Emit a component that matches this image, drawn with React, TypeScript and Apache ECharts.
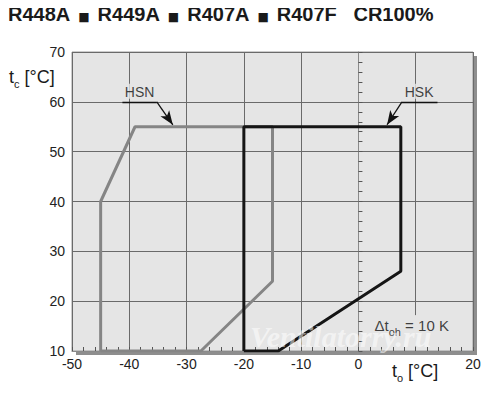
import React, { useEffect, useRef } from "react";
import * as echarts from "echarts";

const titleParts = ["R448A", "R449A", "R407A", "R407F"];
const titleSuffix = "CR100%";
const xTicks = [-50, 20, 10];
const yTicks = [10, 70, 10];
const hiddenXLabels = [10];

const hsnLabel = "HSN";
const hsnPoints = [
  [-45, 10],
  [-45, 40],
  [-39, 55],
  [-15, 55],
  [-15, 24],
  [-27.5, 10],
  [-45, 10],
];
const hsnLabelPos = [-38.2, 60];
const hsnLeader = [
  [-41.2, 60],
  [-35.2, 60],
  [-32.4, 55.4],
];

const hskLabel = "HSK";
const hskPoints = [
  [-20, 10],
  [-20, 55],
  [7.4, 55],
  [7.4, 26],
  [-14, 10],
  [-20, 10],
];
const hskLabelPos = [10.6, 60];
const hskLeader = [
  [13.8, 60],
  [7.6, 60],
  [5.0, 55.4],
];

const superheatPos = [9.3, 15];
const gridGapX = [9.7, 10.3];
const gridGapY = [10.9, 17.2];

const FONT = "'Liberation Sans', Arial, Helvetica, sans-serif";
const BG = "#e5e5e5";

export default function App() {
  const ref = useRef<HTMLDivElement>(null);
  useEffect(() => {
    if (!ref.current) return;
    const chart = echarts.init(ref.current, undefined, { renderer: "svg" });
    const leaderMark = (pts: number[][]) => ({
      silent: true,
      symbol: ["none", "none"],
      label: { show: false },
      lineStyle: { color: "#111", width: 1.3, type: "solid" },
      emphasis: { disabled: true },
      data: [
        [{ coord: pts[0] }, { coord: pts[1] }],
        [
          { coord: pts[1], symbol: "none" },
          { coord: pts[2], symbol: "arrow", symbolSize: [8, 14] },
        ],
      ],
    });
    const option: any = {
      animation: false,
      grid: {
        left: 72,
        top: 52,
        width: 401,
        height: 299,
        show: true,
        backgroundColor: BG,
        borderColor: "#9a9a9a",
        borderWidth: 1,
      },
      xAxis: {
        type: "value",
        min: xTicks[0],
        max: xTicks[1],
        interval: xTicks[2],
        axisLine: { show: true, lineStyle: { color: "#8a8a8a", width: 1 } },
        axisTick: { show: true, inside: true, length: 4, lineStyle: { color: "#555" } },
        minorTick: { show: true, splitNumber: 5, length: 4, lineStyle: { color: "#555" } },
        splitLine: { show: true, lineStyle: { color: "#6a6a6a", width: 1 } },
        axisLabel: {
          color: "#222",
          fontSize: 14,
          fontFamily: FONT,
          margin: 6,
          formatter: (v: number) => (hiddenXLabels.includes(v) ? "" : String(v)),
        },
      },
      yAxis: {
        type: "value",
        min: yTicks[0],
        max: yTicks[1],
        interval: yTicks[2],
        axisLine: { show: true, lineStyle: { color: "#8a8a8a", width: 1 } },
        axisTick: { show: true, inside: true, length: 4, lineStyle: { color: "#555" } },
        minorTick: { show: true, splitNumber: 5, length: 4, lineStyle: { color: "#555" } },
        splitLine: { show: true, lineStyle: { color: "#6a6a6a", width: 1 } },
        axisLabel: { color: "#222", fontSize: 14, fontFamily: FONT, margin: 7 },
      },
      series: [
        {
          type: "line",
          data: hsnPoints,
          symbol: "none",
          lineStyle: { color: "#858585", width: 3 },
          z: 3,
          markLine: leaderMark(hsnLeader),
        },
        {
          type: "line",
          data: hskPoints,
          symbol: "none",
          lineStyle: { color: "#151515", width: 3 },
          z: 4,
          markLine: leaderMark(hskLeader),
          markArea: {
            silent: true,
            itemStyle: { color: BG },
            data: [[{ coord: [gridGapX[0], gridGapY[0]] }, { coord: [gridGapX[1], gridGapY[1]] }]],
          },
        },
        {
          type: "scatter",
          symbolSize: 0,
          z: 5,
          silent: true,
          data: [
            { value: hsnLabelPos, name: hsnLabel },
            { value: hskLabelPos, name: hskLabel },
          ],
          label: {
            show: true,
            position: "top",
            distance: 3,
            formatter: (p: any) => p.name,
            color: "#111",
            fontSize: 14,
            fontFamily: FONT,
            backgroundColor: BG,
            padding: [1, 2, 0, 2],
          },
        },
        {
          type: "scatter",
          symbolSize: 0,
          z: 5,
          silent: true,
          data: [{ value: superheatPos }],
          label: {
            show: true,
            position: "inside",
            formatter: "{a|\u0394t}{s|oh}{a| = 10 K}",
            rich: {
              a: { fontSize: 15, fontFamily: FONT, color: "#111", lineHeight: 16, verticalAlign: "top" },
              s: {
                fontSize: 11,
                fontFamily: FONT,
                color: "#111",
                lineHeight: 11,
                padding: [8, 0, 0, 0],
                verticalAlign: "top",
              },
            },
          },
        },
      ],
      graphic: [
        {
          type: "rect",
          z: -10,
          shape: { x: 76, y: 56, width: 401, height: 299 },
          style: { fill: "#8e8e8e" },
          silent: true,
        },
        {
          type: "text",
          left: 8,
          top: 4,
          style: {
            text:
              titleParts.map((t) => `{t|${t}}`).join("{q|\u25A0}") + `{t|   ${titleSuffix}}`,
            rich: {
              t: { fontSize: 20, fontWeight: "bold", fontFamily: FONT, fill: "#1a1a1a", lineHeight: 24, verticalAlign: "bottom" },
              q: { fontSize: 12, fontFamily: "'DejaVu Sans', sans-serif", fill: "#1a1a1a", lineHeight: 24, verticalAlign: "bottom", padding: [0, 8, 1, 8] },
            },
          },
        },
        {
          type: "text",
          left: 9,
          top: 68,
          style: {
            text: "{a|t}{s|c}{a| [°C]}",
            rich: {
              a: { fontSize: 18, fontFamily: FONT, fill: "#1a1a1a", lineHeight: 18, verticalAlign: "top" },
              s: { fontSize: 11, fontFamily: FONT, fill: "#1a1a1a", lineHeight: 11, padding: [10, 0, 0, 0], verticalAlign: "top" },
            },
          },
        },
        {
          type: "text",
          left: 392,
          top: 362,
          style: {
            text: "{a|t}{s|o}{a| [°C]}",
            rich: {
              a: { fontSize: 18, fontFamily: FONT, fill: "#1a1a1a", lineHeight: 18, verticalAlign: "top" },
              s: { fontSize: 11, fontFamily: FONT, fill: "#1a1a1a", lineHeight: 11, padding: [10, 0, 0, 0], verticalAlign: "top" },
            },
          },
        },
        {
          type: "text",
          left: 250,
          top: 321,
          z: 100,
          silent: true,
          style: {
            text: "Ventilatorry.ru",
            font: "italic bold 30px 'Liberation Serif', serif",
            fill: "rgba(255,255,255,0.55)",
          },
        },
      ],
    };
    chart.setOption(option);
    return () => chart.dispose();
  }, []);
  return <div ref={ref} style={{ width: 500, height: 401, margin: -8 }} />;
}
